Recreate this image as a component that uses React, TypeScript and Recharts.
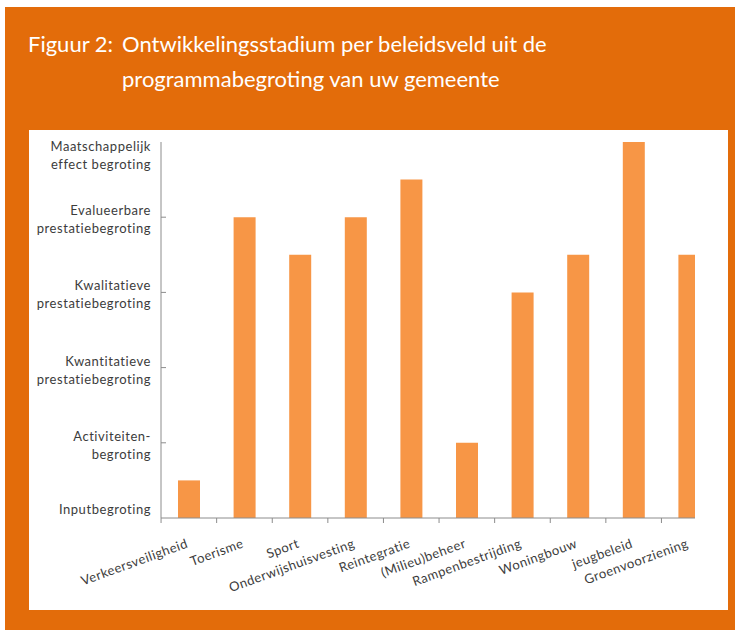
import { BarChart, Bar, XAxis, YAxis } from "recharts";

const categories = [
  "Verkeersveiligheid",
  "Toerisme",
  "Sport",
  "Onderwijshuisvesting",
  "Reintegratie",
  "(Milieu)beheer",
  "Rampenbestrijding",
  "Woningbouw",
  "jeugbeleid",
  "Groenvoorziening",
];

const stageValues = [0.5, 4, 3.5, 4, 4.5, 1, 3, 3.5, 5, 3.5];

const stageLevels = [0, 1, 2, 3, 4, 5];

const levelLabels = [
  ["Inputbegroting"],
  ["Activiteiten-", "begroting"],
  ["Kwantitatieve", "prestatiebegroting"],
  ["Kwalitatieve", "prestatiebegroting"],
  ["Evalueerbare", "prestatiebegroting"],
  ["Maatschappelijk", "effect begroting"],
];

const data = categories.map((name, i) => ({ name, value: stageValues[i] }));

const ORANGE = "#E36C0A";
const BAR = "#F79646";
const AXIS = "#8c8c8c";
const TEXT = "#3c3c3c";
const FONT = "Lato, 'Open Sans', sans-serif";

const PLOT_W = 555;
const BAND = PLOT_W / categories.length;

function YTick({ x, y, payload }: any) {
  const v = payload.value;
  const lines = levelLabels[v] ?? [];
  let first = lines.length === 1 ? -4 : -2;
  if (v === stageLevels[stageLevels.length - 1]) first = 9;
  return (
    <g>
      {v > 0 && v < 5 && (
        <line x1={x} x2={x + 5} y1={y} y2={y} stroke={AXIS} />
      )}
      {lines.map((t: string, i: number) => (
        <text
          key={i}
          x={x - 10}
          y={y + first + i * 18}
          textAnchor="end"
          fontSize={13}
          letterSpacing={0.55}
          fill={TEXT}
          fontFamily={FONT}
        >
          {t}
        </text>
      ))}
    </g>
  );
}

function XTick({ x, y, payload }: any) {
  const tx = x - BAND / 2;
  return (
    <g>
      <line x1={tx} x2={tx} y1={y} y2={y + 5} stroke={AXIS} />
      <text
        x={x}
        y={y + 29}
        textAnchor="end"
        fontSize={13}
        letterSpacing={0.5}
        fill={TEXT}
        fontFamily={FONT}
        transform={`rotate(-20, ${x}, ${y + 29})`}
      >
        {payload.value}
      </text>
    </g>
  );
}

export default function App() {
  return (
    <div
      style={{
        position: "absolute",
        left: 0,
        top: 0,
        width: 735,
        height: 630,
        background: "#fff",
        overflow: "hidden",
      }}
    >
      <div
        style={{
          position: "absolute",
          left: 5,
          top: 7,
          width: 730,
          height: 623,
          background: ORANGE,
        }}
      />
      <svg
        width={735}
        height={120}
        style={{ position: "absolute", left: 0, top: 0 }}
      >
        <g fill="#fff" fontFamily={FONT} fontSize={22}>
          <text x={28} y={52}>
            Figuur 2:
          </text>
          <text x={122} y={52}>
            Ontwikkelingsstadium per beleidsveld uit de
          </text>
          <text x={122} y={87}>
            programmabegroting van uw gemeente
          </text>
        </g>
      </svg>
      <div
        style={{
          position: "absolute",
          left: 29,
          top: 130,
          width: 699,
          height: 480,
          background: "#fff",
        }}
      >
        <div style={{ width: 666, height: 480, overflow: "hidden" }}>
          <BarChart
            width={700}
            height={480}
            data={data}
            margin={{ top: 12, right: 12, bottom: 0, left: 0 }}
          >
            <XAxis
              dataKey="name"
              interval={0}
              height={92}
              tickSize={0}
              tickMargin={0}
              tickLine={false}
              axisLine={{ stroke: AXIS }}
              tick={<XTick />}
            />
            <YAxis
              type="number"
              domain={[0, 5]}
              ticks={stageLevels}
              width={132}
              tickSize={0}
              tickMargin={0}
              tickLine={false}
              axisLine={{ stroke: AXIS }}
              tick={<YTick />}
            />
            <Bar
              dataKey="value"
              fill={BAR}
              barSize={22}
              isAnimationActive={false}
            />
          </BarChart>
        </div>
      </div>
    </div>
  );
}
